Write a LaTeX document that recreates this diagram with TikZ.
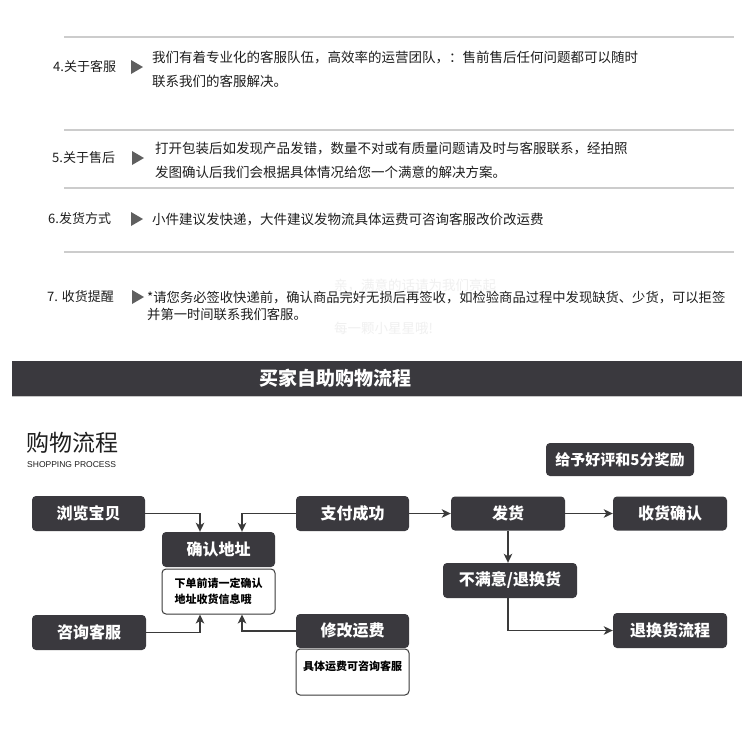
\documentclass[tikz,border=0pt]{standalone}
\usepackage{fontspec}
\setmainfont{Noto Sans CJK SC}
\newfontfamily\latinsans{Liberation Sans}
\usetikzlibrary{arrows.meta}
\definecolor{boxdark}{HTML}{3A393E}
\definecolor{txt}{HTML}{1E1E1E}
\definecolor{sepgray}{HTML}{CCCCCC}
\definecolor{trigray}{HTML}{5F5F5F}
\definecolor{faint}{HTML}{F0F0F0}
\definecolor{linedark}{HTML}{3A3A3A}
\begin{document}
\begin{tikzpicture}[x=1pt,y=-1pt,
  darkbox/.style={draw=none, fill=boxdark, rounded corners=4pt, text=white,
    font=\fontsize{16}{18}\selectfont\bfseries, minimum width=113pt, minimum height=35pt, inner sep=0pt},
  notebox/.style={draw=linedark, line width=1pt, fill=white, rounded corners=4pt,
    minimum width=113pt, inner sep=0pt, font=\fontsize{11}{16}\selectfont\bfseries, text=black, align=left},
  notetext/.style={inner sep=0pt, font=\fontsize{11}{16}\selectfont\bfseries, text=black},
  conn/.style={draw=linedark, line width=1.6pt, -{Stealth[length=9pt,width=8.5pt,inset=2.5pt]}},
  itemlabel/.style={anchor=west, inner sep=0pt, text=txt, font=\fontsize{13}{16}\selectfont},
  itemtext/.style={anchor=west, inner sep=0pt, text=txt, align=left, font=\fontsize{13.5}{24}\selectfont},
  faintnote/.style={anchor=west, inner sep=0pt, text=faint, font=\fontsize{13.5}{16}\selectfont},
  sepline/.style={draw=sepgray, line width=1.2pt},
  marker/.style={fill=trigray}
]
\useasboundingbox[fill=white] (0,0) rectangle (750,731);

% separators
\draw[sepline] (64,37) -- (734,37);
\draw[sepline] (64,130) -- (734,130);
\draw[sepline] (64,188) -- (734,188);
\draw[sepline] (64,252) -- (734,252);

% item 4
\node[itemlabel] (l4) at (53,67) {4.关于客服};
\fill[marker] (131,60) -- (131,74) -- (143,67) -- cycle;
\node[itemtext] (t4) at (152,69) {我们有着专业化的客服队伍，高效率的运营团队，：售前售后任何问题都可以随时\\联系我们的客服解决。};

% item 5
\node[itemlabel] (l5) at (52,158) {5.关于售后};
\fill[marker] (132,151) -- (132,165) -- (144,158) -- cycle;
\node[itemtext] (t5) at (155,160) {打开包装后如发现产品发错，数量不对或有质量问题请及时与客服联系，经拍照\\发图确认后我们会根据具体情况给您一个满意的解决方案。};

% item 6
\node[itemlabel] (l6) at (48,219) {6.发货方式};
\fill[marker] (131,212) -- (131,226) -- (143,219) -- cycle;
\node[itemtext] (t6) at (152,219) {小件建议发快递，大件建议发物流具体运费可咨询客服改价改运费};

% item 7
\node[faintnote] (f1) at (334,285) {亲，满意的话请为我们亮起};
\node[faintnote] (f2) at (334,328) {每一颗小星星哦!};
\node[itemlabel] (l7) at (47,297) {7. 收货提醒};
\fill[marker] (132,290) -- (132,304) -- (144,297) -- cycle;
\node[itemtext, font=\fontsize{13.3}{17}\selectfont] (t7) at (147,305.5) {*请您务必签收快递前，确认商品完好无损后再签收，如检验商品过程中发现缺货、少货，可以拒签\\并第一时间联系我们客服。};

% banner
\fill[boxdark] (12,361) rectangle (742,396);
\draw[gray!45, line width=1pt] (12,396.5) -- (742,396.5);
\node[text=white, inner sep=0pt, font=\fontsize{19}{22}\selectfont\bfseries] (banner) at (335,378.5) {买家自助购物流程};

% heading
\node[anchor=west, inner sep=0pt, text=txt, font=\fontsize{23}{26}\selectfont] (head) at (26,443) {购物流程};
\node[anchor=west, inner sep=0pt, text=txt, font=\latinsans\fontsize{8.5}{10}\selectfont] (headen) at (27,465) {SHOPPING PROCESS};

% flow boxes
\node[darkbox] (browse) at (88.5,513.5) {浏览宝贝};
\node[darkbox] (pay) at (352.5,513.5) {支付成功};
\node[darkbox] (confirm) at (218.5,549.5) {确认地址};
\node[notebox, minimum height=45pt] (confirmnote) at (218.5,591.5) {下单前请一定确认\\地址收货信息哦};
\node[darkbox, minimum width=114pt, minimum height=34pt] (ship) at (508,513.5) {发货};
\node[darkbox, minimum width=114pt, minimum height=34pt] (receive) at (670,513.5) {收货确认};
\node[darkbox, minimum width=148pt, minimum height=33pt, font=\fontsize{15}{17}\selectfont\bfseries] (review) at (620,459.5) {给予好评和5分奖励};
\node[darkbox, minimum width=134pt] (unhappy) at (510,580.5) {不满意/退换货};
\node[darkbox, minimum width=114pt] (returnflow) at (670,630.5) {退换货流程};
\node[darkbox, minimum width=114pt] (consult) at (89,632.5) {咨询客服};
\node[darkbox, minimum height=34pt] (modify) at (352.5,631) {修改运费};
\node[notebox, minimum height=46pt] (modifynote) at (352.5,672) {};
\node[notetext, anchor=north] (modifynotetext) at (352.5,661) {具体运费可咨询客服};

% connectors
\draw[conn] (browse.east) -| ([xshift=-18.5pt]confirm.north);
\draw[conn] (pay.west) -| ([xshift=23.5pt]confirm.north);
\draw[conn] (pay.east) -- (ship.west);
\draw[conn] (ship.east) -- (receive.west);
\draw[conn] (ship.south) -- (ship.south |- unhappy.north);
\draw[conn] (ship.south |- unhappy.south) |- (returnflow.west);
\draw[conn] (consult.east) -| ([xshift=-18.5pt]confirmnote.south);
\draw[conn] (modify.west) -| ([xshift=23.5pt]confirmnote.south);
\end{tikzpicture}
\end{document}
